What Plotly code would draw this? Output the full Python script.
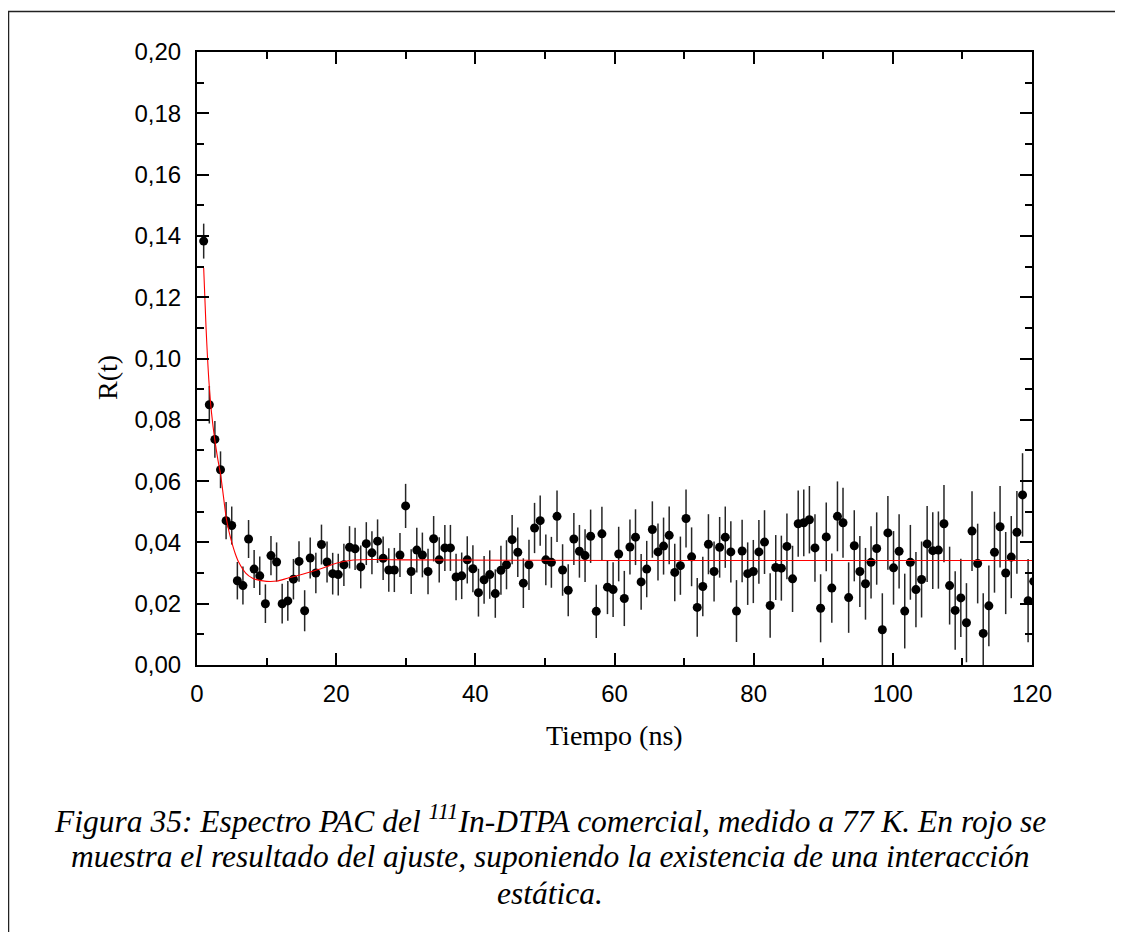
import plotly.graph_objects as go

# ---- data ----
time_ns = [0.96, 1.77, 2.57, 3.38, 4.18, 4.99, 5.80, 6.60, 7.41, 8.21,
           9.02, 9.83, 10.63, 11.44, 12.24, 13.05, 13.86, 14.66, 15.47, 16.27,
           17.08, 17.89, 18.69, 19.50, 20.30, 21.11, 21.92, 22.72, 23.53, 24.33,
           25.14, 25.95, 26.75, 27.56, 28.36, 29.17, 29.98, 30.78, 31.59, 32.39,
           33.20, 34.01, 34.81, 35.62, 36.42, 37.23, 38.04, 38.84, 39.65, 40.45,
           41.26, 42.07, 42.87, 43.68, 44.48, 45.29, 46.10, 46.90, 47.71, 48.51,
           49.32, 50.13, 50.93, 51.74, 52.54, 53.35, 54.16, 54.96, 55.77, 56.57,
           57.38, 58.19, 58.99, 59.80, 60.60, 61.41, 62.22, 63.02, 63.83, 64.63,
           65.44, 66.25, 67.05, 67.86, 68.66, 69.47, 70.28, 71.08, 71.89, 72.69,
           73.50, 74.31, 75.11, 75.92, 76.72, 77.53, 78.34, 79.14, 79.95, 80.75,
           81.56, 82.37, 83.17, 83.98, 84.78, 85.59, 86.40, 87.20, 88.01, 88.81,
           89.62, 90.43, 91.23, 92.04, 92.84, 93.65, 94.46, 95.26, 96.07, 96.87,
           97.68, 98.49, 99.29, 100.10, 100.90, 101.71, 102.52, 103.32, 104.13, 104.93,
           105.74, 106.55, 107.35, 108.16, 108.96, 109.77, 110.58, 111.38, 112.19, 112.99,
           113.80, 114.61, 115.41, 116.22, 117.02, 117.83, 118.64, 119.44, 120.25]

r_values = [0.1383, 0.0849, 0.0736, 0.0637, 0.0471, 0.0455, 0.0275, 0.0259, 0.0411, 0.0313,
            0.0291, 0.0200, 0.0357, 0.0336, 0.0200, 0.0209, 0.0280, 0.0338, 0.0177, 0.0349,
            0.0300, 0.0393, 0.0336, 0.0298, 0.0295, 0.0327, 0.0384, 0.0379, 0.0320, 0.0396,
            0.0366, 0.0404, 0.0348, 0.0310, 0.0310, 0.0359, 0.0519, 0.0305, 0.0375, 0.0359,
            0.0305, 0.0412, 0.0343, 0.0382, 0.0382, 0.0287, 0.0291, 0.0343, 0.0314, 0.0236,
            0.0278, 0.0295, 0.0233, 0.0309, 0.0327, 0.0409, 0.0368, 0.0267, 0.0327, 0.0447,
            0.0471, 0.0343, 0.0335, 0.0485, 0.0310, 0.0244, 0.0411, 0.0371, 0.0357, 0.0420,
            0.0175, 0.0428, 0.0254, 0.0246, 0.0362, 0.0217, 0.0385, 0.0417, 0.0271, 0.0313,
            0.0442, 0.0369, 0.0388, 0.0423, 0.0302, 0.0324, 0.0478, 0.0353, 0.0188, 0.0256,
            0.0394, 0.0305, 0.0384, 0.0417, 0.0369, 0.0176, 0.0372, 0.0298, 0.0305, 0.0369,
            0.0401, 0.0194, 0.0318, 0.0316, 0.0387, 0.0281, 0.0461, 0.0464, 0.0474, 0.0382,
            0.0185, 0.0418, 0.0251, 0.0485, 0.0464, 0.0220, 0.0389, 0.0305, 0.0265, 0.0335,
            0.0380, 0.0115, 0.0431, 0.0317, 0.0371, 0.0176, 0.0335, 0.0246, 0.0279, 0.0395,
            0.0373, 0.0375, 0.0461, 0.0259, 0.0178, 0.0219, 0.0138, 0.0437, 0.0331, 0.0103,
            0.0193, 0.0368, 0.0451, 0.0300, 0.0352, 0.0433, 0.0555, 0.0210, 0.0273]

r_errors = [0.0057, 0.0061, 0.0060, 0.0060, 0.0061, 0.0062, 0.0061, 0.0062, 0.0062, 0.0062,
            0.0063, 0.0063, 0.0064, 0.0064, 0.0065, 0.0065, 0.0066, 0.0066, 0.0067, 0.0067,
            0.0066, 0.0065, 0.0067, 0.0068, 0.0068, 0.0069, 0.0069, 0.0069, 0.0070, 0.0070,
            0.0070, 0.0071, 0.0071, 0.0071, 0.0072, 0.0072, 0.0072, 0.0073, 0.0073, 0.0073,
            0.0074, 0.0074, 0.0074, 0.0075, 0.0075, 0.0076, 0.0076, 0.0077, 0.0077, 0.0078,
            0.0078, 0.0079, 0.0079, 0.0080, 0.0080, 0.0080, 0.0081, 0.0081, 0.0082, 0.0082,
            0.0082, 0.0083, 0.0083, 0.0084, 0.0084, 0.0085, 0.0085, 0.0086, 0.0086, 0.0087,
            0.0087, 0.0088, 0.0088, 0.0089, 0.0089, 0.0090, 0.0090, 0.0091, 0.0091, 0.0092,
            0.0092, 0.0093, 0.0093, 0.0094, 0.0094, 0.0095, 0.0095, 0.0096, 0.0096, 0.0097,
            0.0098, 0.0098, 0.0099, 0.0100, 0.0100, 0.0101, 0.0102, 0.0102, 0.0103, 0.0104,
            0.0104, 0.0105, 0.0106, 0.0106, 0.0107, 0.0108, 0.0108, 0.0109, 0.0110, 0.0110,
            0.0111, 0.0112, 0.0113, 0.0114, 0.0114, 0.0115, 0.0116, 0.0116, 0.0117, 0.0118,
            0.0118, 0.0119, 0.0120, 0.0120, 0.0121, 0.0122, 0.0122, 0.0123, 0.0124, 0.0124,
            0.0125, 0.0126, 0.0126, 0.0127, 0.0128, 0.0128, 0.0129, 0.0130, 0.0130, 0.0131,
            0.0132, 0.0132, 0.0133, 0.0134, 0.0134, 0.0135, 0.0136, 0.0136, 0.0137]

fit_time = [0.96, 1.3, 1.7, 2.1, 2.55, 3.0, 3.4, 3.8, 4.2, 4.6, 5.0, 5.5, 6.0, 7.0, 8.0,
            9.0, 10.0, 11.5, 13.0, 14.5, 16.0, 18.0, 20.0, 22.0, 25.0, 30.0, 60.0, 120.0]
fit_values = [0.1295, 0.1100, 0.0930, 0.0820, 0.0736, 0.0670, 0.0620, 0.0550, 0.0480,
              0.0435, 0.0400, 0.0363, 0.0335, 0.0300, 0.0283, 0.0276, 0.0273, 0.0274,
              0.0283, 0.0292, 0.0302, 0.0316, 0.0332, 0.0341, 0.0344, 0.0343, 0.0341, 0.0341]

x_ticks = [0, 20, 40, 60, 80, 100, 120]
y_ticks = [0.00, 0.02, 0.04, 0.06, 0.08, 0.10, 0.12, 0.14, 0.16, 0.18, 0.20]

# ---- layout geometry (page pixels; the page body adds an 8 px margin) ----
OFF = 8
W, H = 1123 - 2 * OFF, 940 - 2 * OFF
L, R, T, B = 197 - OFF, 1032 - OFF, 52 - OFF, 665 - OFF
pw, ph = R - L, B - T


def px(x):
    return (x - OFF - L) / pw


def py(y):
    return (B - (y - OFF)) / ph


fig = go.Figure()

fig.add_trace(go.Scatter(
    x=time_ns, y=r_values, mode="markers",
    marker=dict(color="black", size=9),
    error_y=dict(type="data", array=r_errors, visible=True,
                 color="#262626", thickness=1.5, width=0),
    showlegend=False,
))

fig.add_trace(go.Scatter(
    x=fit_time, y=fit_values, mode="lines",
    line=dict(color="#ff0000", width=1.1, shape="spline", smoothing=0.8),
    showlegend=False,
))

tickfont = dict(family="Liberation Sans, Arial, sans-serif", size=24, color="black")

fig.update_xaxes(
    range=[0, 120], tickvals=x_ticks, ticktext=[str(v) for v in x_ticks],
    ticks="inside", ticklen=12, tickwidth=2, tickcolor="black",
    minor=dict(dtick=10, ticks="inside", ticklen=7, tickwidth=2, tickcolor="black"),
    showline=True, linecolor="black", linewidth=2, mirror="allticks",
    showgrid=False, zeroline=False, tickfont=tickfont, ticklabelstandoff=6,
)
fig.update_yaxes(
    range=[0, 0.2], tickvals=y_ticks, ticktext=[f"{v:.2f}".replace(".", ",") for v in y_ticks],
    ticks="inside", ticklen=12, tickwidth=2, tickcolor="black",
    minor=dict(dtick=0.01, ticks="inside", ticklen=7, tickwidth=2, tickcolor="black"),
    showline=True, linecolor="black", linewidth=2, mirror="allticks",
    showgrid=False, zeroline=False, tickfont=tickfont, ticklabelstandoff=9,
)

serif = "Liberation Serif, Times New Roman, serif"
cap_font = dict(family=serif, size=31.5, color="black")
annotations = [
    dict(text="Tiempo (ns)", x=px(614), y=py(735), xref="paper", yref="paper",
         showarrow=False, xanchor="center", yanchor="middle",
         font=dict(family=serif, size=28, color="black")),
    dict(text="R(t)", x=px(107), y=py(378), xref="paper", yref="paper",
         showarrow=False, xanchor="center", yanchor="middle", textangle=-90,
         font=dict(family=serif, size=28, color="black")),
    dict(text="<i>Figura 35: Espectro PAC del <sup>111</sup>In-DTPA comercial, medido a 77 K. En rojo se</i>",
         x=px(550), y=py(819), xref="paper", yref="paper",
         showarrow=False, xanchor="center", yanchor="middle", font=cap_font),
    dict(text="<i>muestra el resultado del ajuste, suponiendo la existencia de una interacción</i>",
         x=px(550), y=py(856), xref="paper", yref="paper",
         showarrow=False, xanchor="center", yanchor="middle", font=cap_font),
    dict(text="<i>estática.</i>",
         x=px(550), y=py(893), xref="paper", yref="paper",
         showarrow=False, xanchor="center", yanchor="middle", font=cap_font),
]

shapes = [
    dict(type="rect", xref="paper", yref="paper",
         x0=px(8.5), x1=px(1140), y0=py(960), y1=py(11.5),
         line=dict(color="#222222", width=1.5), fillcolor="rgba(0,0,0,0)", layer="below"),
]

fig.update_layout(
    width=W, height=H,
    margin=dict(l=L, r=W - R, t=T, b=H - B, pad=0),
    paper_bgcolor="white", plot_bgcolor="white",
    annotations=annotations, shapes=shapes,
    showlegend=False,
)

fig.write_html("out.html")
